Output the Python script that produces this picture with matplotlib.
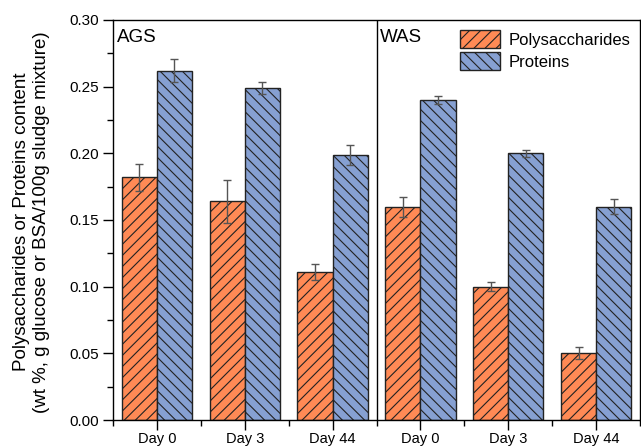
import matplotlib

matplotlib.use("Agg")
import matplotlib.pyplot as plt
import numpy as np
from matplotlib.ticker import MultipleLocator

plt.rcParams["font.family"] = ["Liberation Sans", "DejaVu Sans"]
plt.rcParams["hatch.color"] = "#333333"
plt.rcParams["hatch.linewidth"] = 0.8

days = ["Day 0", "Day 3", "Day 44", "Day 0", "Day 3", "Day 44"]
groups = ["AGS", "WAS"]
polysaccharides = [0.182, 0.164, 0.111, 0.160, 0.100, 0.050]
polysaccharides_err = [0.010, 0.016, 0.006, 0.0075, 0.0033, 0.0045]
proteins = [0.262, 0.249, 0.199, 0.240, 0.200, 0.160]
proteins_err = [0.0085, 0.0045, 0.0075, 0.003, 0.0025, 0.0055]

ORANGE = "#FF8A55"
BLUE = "#86A0D2"

fig = plt.figure(figsize=(6.41, 4.47), dpi=100)
ax = fig.add_axes([0.1763, 0.0604, 0.8222, 0.8949])

x = np.arange(len(days))
width = 0.4
err_kw = dict(ecolor="#555555", elinewidth=1.0, capsize=3, capthick=1.0)
ax.bar(x - width / 2, polysaccharides, width, yerr=polysaccharides_err,
       color=ORANGE, edgecolor="#222222", linewidth=1.0, hatch="///",
       error_kw=err_kw, label="Polysaccharides")
ax.bar(x + width / 2, proteins, width, yerr=proteins_err,
       color=BLUE, edgecolor="#222222", linewidth=1.0, hatch="\\\\\\",
       error_kw=err_kw, label="Proteins")

# split line between the two sludge groups
ax.axvline(2.5, color="black", linewidth=1.0)
ax.text(-0.46, 0.293, groups[0], fontsize=13.5, va="top", ha="left")
ax.text(2.54, 0.293, groups[1], fontsize=13.5, va="top", ha="left")

ax.set_xlim(-0.5, 5.5)
ax.set_ylim(0, 0.30)
ax.set_xticks(x, days)
ax.xaxis.set_minor_locator(MultipleLocator(1, offset=0.5))
ax.yaxis.set_major_locator(MultipleLocator(0.05))
ax.yaxis.set_minor_locator(MultipleLocator(0.025))
ax.yaxis.set_major_formatter(lambda v, pos: f"{v:.2f}")
ax.tick_params(axis="both", which="major", direction="out", length=7,
               width=1.0, labelsize=11, pad=3)
ax.tick_params(axis="both", which="minor", direction="out", length=4, width=1.0)
ax.tick_params(axis="x", which="major", labelsize=10.5, pad=1.5)
for spine in ax.spines.values():
    spine.set_linewidth(1.0)

fig.text(31.5 / 641, 0.503,
         "Polysaccharides or Proteins content\n"
         "(wt %, g glucose or BSA/100g sludge mixture)",
         fontsize=13.5, linespacing=1.3, rotation=90,
         ha="center", va="center", multialignment="center")

ax.legend(loc="upper right", bbox_to_anchor=(1.0, 1.0), frameon=False,
          fontsize=12, handlelength=2.4, handleheight=1.3,
          handletextpad=0.5, labelspacing=0.25, borderaxespad=0.2)

fig.savefig("out.png", dpi=100)
